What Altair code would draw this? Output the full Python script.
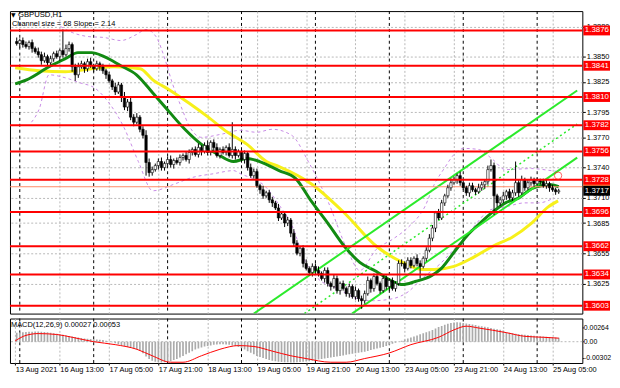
import altair as alt
import pandas as pd

# ---------------- data ----------------
first_open = 1.3870
close = [
    1.3868, 1.3865, 1.3863, 1.3866,
    1.3862, 1.3860, 1.3864, 1.3858, 1.3855,
    1.3852, 1.3846, 1.3850, 1.3844,
    1.3848, 1.3853, 1.3850, 1.3856, 1.3852,
    1.3858, 1.3862, 1.3840, 1.3832,
    1.3840, 1.3843, 1.3838, 1.3845, 1.3841, 1.3838, 1.3843, 1.3840, 1.3836,
    1.3832, 1.3826, 1.3820, 1.3815,
    1.3822, 1.3810, 1.3800, 1.3805, 1.3790,
    1.3785, 1.3790, 1.3778, 1.3772,
    1.3745, 1.3735, 1.3738,
    1.3742, 1.3746, 1.3740, 1.3744, 1.3748, 1.3743, 1.3747, 1.3745, 1.3750,
    1.3752, 1.3748, 1.3755, 1.3758, 1.3753, 1.3760, 1.3756,
    1.3762, 1.3755, 1.3765, 1.3760, 1.3752, 1.3758,
    1.3755, 1.3760, 1.3752,
    1.3758,
    1.3752, 1.3756, 1.3748, 1.3754,
    1.3740, 1.3732, 1.3736,
    1.3722, 1.3718, 1.3712, 1.3715,
    1.3708, 1.3705, 1.3700,
    1.3690, 1.3694, 1.3685, 1.3688,
    1.3675, 1.3665, 1.3655, 1.3660,
    1.3645, 1.3640, 1.3636, 1.3642, 1.3638,
    1.3635, 1.3630, 1.3638, 1.3625, 1.3622, 1.3630, 1.3618, 1.3625, 1.3620,
    1.3615, 1.3622, 1.3612, 1.3618, 1.3610,
    1.3608, 1.3615,
    1.3628, 1.3620, 1.3632, 1.3625, 1.3618, 1.3630, 1.3622, 1.3628, 1.3620, 1.3625,
    1.3645,
    1.3645, 1.3640, 1.3648, 1.3643, 1.3650, 1.3645,
    1.3642,
    1.3650, 1.3658,
    1.3670, 1.3680, 1.3695, 1.3690,
    1.3705, 1.3712, 1.3720, 1.3725,
    1.3728, 1.3732, 1.3725,
    1.3720, 1.3715, 1.3722, 1.3718, 1.3716, 1.3720, 1.3723, 1.3726,
    1.3738, 1.3742,
    1.3712, 1.3705,
    1.3708, 1.3712, 1.3716, 1.3710, 1.3715,
    1.3725, 1.3715, 1.3728, 1.3720,
    1.3725, 1.3728, 1.3724, 1.3727, 1.3726, 1.3722, 1.3724,
    1.3720, 1.3718, 1.3716, 1.3717,
]
up_wick = [
    3, 2, 4, 2, 3, 3, 2, 3, 2, 4, 3, 4, 2, 3, 2, 3, 2, 21, 4, 3,
    2, 3, 4, 3, 2, 3, 4, 2, 3, 2, 3, 2, 3, 2, 4, 3, 2, 5, 3, 4,
    3, 4, 2, 3, 5, 4, 3, 2, 3, 4, 2, 3, 4, 2, 3, 3, 2, 4, 3, 2,
    3, 4, 2, 3, 5, 2, 3, 4, 2, 3, 2, 4, 27, 3, 2, 4, 3, 2, 4, 3,
    3, 2, 4, 2, 3, 3, 2, 4, 3, 2, 3, 2, 4, 3, 2, 3, 4, 2, 3, 3,
    4, 2, 3, 3, 2, 4, 3, 2, 3, 2, 3, 2, 4, 2, 3, 3, 4, 2, 3, 3,
    2, 4, 3, 2, 3, 2, 3, 4, 2, 3, 3, 2, 4, 3, 2, 3, 4, 3, 2, 4,
    3, 2, 3, 4, 3, 2, 4, 3, 2, 3, 3, 2, 4, 3, 2, 4, 6, 3, 2, 3,
    4, 2, 3, 3, 21, 3, 4, 2, 3, 3, 2, 3, 2, 3, 4, 2, 3, 2, 2,
]
lo_wick = [
    2, 3, 2, 4, 3, 2, 3, 4, 2, 3, 4, 2, 3, 2, 3, 2, 4, 3, 2, 3,
    5, 6, 3, 2, 4, 3, 2, 3, 2, 4, 3, 4, 2, 3, 3, 2, 5, 3, 4, 3,
    4, 2, 3, 3, 13, 4, 3, 2, 4, 3, 3, 2, 3, 4, 2, 3, 3, 2, 4, 3,
    2, 3, 4, 2, 3, 3, 4, 2, 3, 2, 3, 2, 3, 4, 2, 3, 4, 3, 2, 3,
    2, 4, 3, 2, 3, 4, 2, 3, 2, 4, 3, 4, 3, 2, 3, 4, 2, 3, 4, 2,
    3, 2, 4, 3, 4, 2, 3, 4, 2, 3, 4, 2, 3, 3, 8, 3, 2, 4, 3, 2,
    3, 2, 3, 4, 2, 3, 2, 3, 4, 2, 3, 2, 3, 12, 2, 3, 2, 3, 4, 2,
    2, 3, 2, 3, 2, 4, 3, 2, 3, 4, 2, 3, 2, 3, 4, 3, 2, 19, 4, 3,
    3, 4, 2, 3, 3, 4, 2, 3, 2, 3, 3, 2, 3, 2, 3, 4, 2, 3, 2,
]

# MACD main (histogram), units of 1e-5
macd_hist = [
    150, 160, 170, 175, 180, 185, 190, 190, 195, 195, 190,
    185, 180, 170, 160, 150, 140, 130, 120, 110, 100,
    90, 80, 70, 60, 55, 50, 45, 40, 35, 30,
    20, 5, -10, -30, -50, -70, -80, -100, -120, -130,
    -150, -170, -220, -280, -330, -360, -380, -390, -395, -390,
    -385, -370, -350, -330, -300, -270, -240, -210, -180, -150,
    -130, -110, -90, -80, -70, -60, -55, -50, -50, -55,
    -60, -70, -80, -100, -120, -150, -180, -210, -240, -270,
    -290, -310, -330, -350, -360, -370, -380, -385, -390, -390,
    -395, -395, -390, -385, -380, -375, -370, -360, -350, -340,
    -330, -320, -310, -300, -290, -280, -270, -260, -250, -240,
    -230, -220, -210, -200, -190, -175, -160, -145, -130, -115,
    -100, -80, -60, -40, -20, 0, 20, 40, 60, 80,
    100, 120, 140, 160, 180, 200, 220, 250, 280, 300,
    320, 340, 355, 365, 370, 365, 355, 345, 335, 325,
    315, 305, 295, 285, 275, 260, 245, 235, 225, 215,
    180, 170, 160, 150, 140, 135, 130, 125, 120, 115,
    110, 105, 100, 95, 90, 85, 80, 75,
]
# MACD signal line, units of 1e-5 (first point read at the left edge)
sig_i = [1.5, 5, 9, 15, 20, 27, 34, 41, 46, 52, 56, 62, 68, 74, 79, 85, 91, 96,
         104, 109, 115, 123, 130, 139, 144, 148, 152, 161, 167, 173, 178]
sig_v = [15, 120, 154, 137, 84, 0, -56, -144, -267, -390, -390, -267, -144, -74,
         -91, -179, -267, -320, -390, -390, -320, -214, -56, 84, 225, 295, 260,
         172, 102, 84, 67]

# moving averages (first point read at the left edge)
green_i = [1.5, 5.2, 12.5, 17.8, 21.9, 26.3, 30.4, 35.8, 40.9, 46.2, 51.6, 56.6, 62,
           67.4, 72.4, 76.8, 80.9, 87.2, 92.6, 97.6, 103, 108.4, 113.4, 118.8, 124.1,
           127.3, 131.4, 136.8, 139.9, 144, 148.1, 152.5, 156.6, 160.7, 165.1, 169.2,
           172.4, 175.5, 178]
green_p = [1.3823, 1.3827, 1.3840, 1.3848, 1.3854, 1.3854, 1.3850, 1.3841, 1.3832,
           1.3814, 1.3795, 1.3778, 1.3763, 1.3753, 1.3746, 1.3749, 1.3746, 1.3737,
           1.3729, 1.3707, 1.3685, 1.3662, 1.3646, 1.3637, 1.3627, 1.3624, 1.3627,
           1.3633, 1.3640, 1.3656, 1.3672, 1.3685, 1.3696, 1.3705, 1.3710, 1.3719,
           1.3722, 1.3723, 1.3721]
yellow_i = [1.5, 9.3, 17.8, 26.3, 33.6, 42.1, 46.2, 51.6, 57.9, 64.2, 70.5, 76.8, 83.1,
            87.2, 97.6, 108.4, 118.8, 127.3, 133.6, 137.7, 144, 150.3, 156.6, 162.9,
            169.2, 174.6, 177.8]
yellow_p = [1.3839, 1.3836, 1.3835, 1.3838, 1.3840, 1.3838, 1.3827, 1.3817, 1.3804,
            1.3790, 1.3775, 1.3763, 1.3746, 1.3741, 1.3724, 1.3695, 1.3662, 1.3646,
            1.3639, 1.3639, 1.3642, 1.3651, 1.3662, 1.3671, 1.3685, 1.3701, 1.3707]

# envelope bands (dashed violet)
bbu_i = [16.2, 20, 25.1, 30.4, 35.8, 40.9, 44, 47.2, 50.3, 52.5, 55.7, 57.9, 62, 68.3,
         74.6, 79.9, 85, 91.3, 96.7, 103, 109.3, 113.4, 118.8, 124.1, 129.2, 134.5,
         137.7, 140.8, 144, 147.2, 151.9, 156.6, 160.7, 169.2, 175.5, 178]
bbu_p = [1.3880, 1.3874, 1.3870, 1.3869, 1.3866, 1.3872, 1.3877, 1.3870, 1.3846,
         1.3824, 1.3798, 1.3782, 1.3770, 1.3773, 1.3777, 1.3775, 1.3778, 1.3772,
         1.3746, 1.3707, 1.3659, 1.3638, 1.3659, 1.3669, 1.3681, 1.3701, 1.3724,
         1.3739, 1.3753, 1.3759, 1.3758, 1.3748, 1.3738, 1.3739, 1.3737, 1.3736]
bbl_i = [6.8, 9.3, 12.5, 17.8, 22.6, 27.3, 32, 36.8, 41.5, 46.2, 53.5, 58.8, 66.1, 72.4,
         74.6, 83.1, 87.2, 91.3, 95.7, 99.8, 106.2, 112.5, 117.8, 124.1, 129.2, 133.6,
         139.3, 144, 150.3, 155.7, 160.7, 167, 171.5, 176.5]
bbl_p = [1.3785, 1.3798, 1.3832, 1.3829, 1.3824, 1.3819, 1.3804, 1.3780, 1.3746,
         1.3717, 1.3724, 1.3730, 1.3734, 1.3737, 1.3734, 1.3720, 1.3703, 1.3683,
         1.3647, 1.3630, 1.3620, 1.3610, 1.3608, 1.3610, 1.3617, 1.3630, 1.3644,
         1.3659, 1.3681, 1.3698, 1.3701, 1.3705, 1.3705, 1.3710]

# equidistant channel (two solid rails + dotted middle)
chan_upper_i = [79.0, 184.0]
chan_upper_p = [1.35952, 1.38165]
chan_lower_i = [110.9, 184.0]
chan_lower_p = [1.35952, 1.37499]
chan_mid_i = [95.4, 184.0]
chan_mid_p = [1.35952, 1.37832]
alert_i = [177.8]
alert_p = [1.3732]

levels = [1.3876, 1.3841, 1.3810, 1.3782, 1.3756, 1.3728, 1.3696, 1.3662, 1.3634, 1.3603]
price_ticks = [1.3595, 1.3625, 1.3655, 1.3685, 1.3710, 1.3740, 1.3770, 1.3795,
               1.3825, 1.3850, 1.3880]
last_price = 1.3717
ask_price = 1.3721
time_ticks = [1.5, 16, 32, 48, 64, 80, 96, 112, 128, 144, 160, 176]
time_labels = ["13 Aug 2021", "16 Aug 13:00", "17 Aug 05:00", "17 Aug 21:00",
               "18 Aug 13:00", "19 Aug 05:00", "19 Aug 21:00", "20 Aug 13:00",
               "23 Aug 05:00", "23 Aug 21:00", "24 Aug 13:00", "25 Aug 05:00"]
day_seps = [3, 27, 51, 75, 99, 123, 147, 171]
macd_ticks = [0.00264, 0.0, -0.00302]

# ---------------- tables ----------------
n = len(close)
opens = [first_open] + close[:-1]
candles = pd.DataFrame({
    "i": list(range(n)),
    "o": opens,
    "c": close,
    "hi": [max(o, c) + u * 0.0001 for o, c, u in zip(opens, close, up_wick)],
    "lo": [min(o, c) - d * 0.0001 for o, c, d in zip(opens, close, lo_wick)],
})
hist_df = pd.DataFrame({"i": list(range(len(macd_hist))), "h": [v * 1e-5 for v in macd_hist]})
sig_df = pd.DataFrame({"i": sig_i, "v": [v * 1e-5 for v in sig_v]})
green_df = pd.DataFrame({"i": green_i, "p": green_p})
yellow_df = pd.DataFrame({"i": yellow_i, "p": yellow_p})
bands_df = pd.concat([
    pd.DataFrame({"i": bbu_i, "p": bbu_p, "b": "up"}),
    pd.DataFrame({"i": bbl_i, "p": bbl_p, "b": "lo"}),
])
rails_df = pd.concat([
    pd.DataFrame({"i": chan_upper_i, "p": chan_upper_p, "r": "up"}),
    pd.DataFrame({"i": chan_lower_i, "p": chan_lower_p, "r": "lo"}),
])
mid_df = pd.DataFrame({"i": chan_mid_i, "p": chan_mid_p})
alert_df = pd.DataFrame({"i": alert_i, "p": alert_p})
levels_df = pd.DataFrame({"p": levels, "lab": [f"{v:.4f}" for v in levels]})
last_df = pd.DataFrame({"p": [last_price], "lab": [f"{last_price:.4f}"]})
ask_df = pd.DataFrame({"p": [ask_price]})
seps_df = pd.DataFrame({"i": day_seps})
one = pd.DataFrame({"k": [0]})

# ---------------- layout / style ----------------
W = 579
H_MAIN = 306
H_MACD = 45
X_MIN, X_MAX = 1.42, 184.07
P_MIN, P_MAX = 1.35952, 1.38952
M_MIN, M_MAX = -0.00405, 0.00440
FONT = "Liberation Sans"
GRID = "#b8b8b8"
AX = 7.5
BOX_R = W + 28
BOX_HALF = 0.00049        # half height of a price tag box, in price units (~5 px)
IN_VIEW = "datum.i >= 2"

xs = alt.Scale(domain=[X_MIN, X_MAX], nice=False, zero=False)
ys = alt.Scale(domain=[P_MIN, P_MAX], nice=False, zero=False)
ms = alt.Scale(domain=[M_MIN, M_MAX], nice=False, zero=False)

x_axis_main = alt.Axis(values=time_ticks[1:], labels=False, ticks=False, domain=False,
                       grid=True, gridColor=GRID, gridDash=[2, 2], title=None)
y_axis_main = alt.Axis(orient="right", values=price_ticks, format=".4f", grid=True,
                       gridColor=GRID, gridDash=[2, 2], domain=False, ticks=True,
                       tickSize=3, tickColor="black", labelFont=FONT, labelFontSize=AX,
                       labelColor="black", labelPadding=1, title=None)
label_expr = "[" + ",".join(f"'{t}'" for t in time_labels) + "][round(datum.value/16)]"
x_axis_macd = alt.Axis(values=time_ticks, labelExpr=label_expr, grid=True, gridColor=GRID,
                       gridDash=[2, 2], domain=False, ticks=True, tickSize=2,
                       tickColor="black", labelAlign="left", labelFont=FONT,
                       labelFontSize=AX, labelColor="black", labelPadding=1,
                       labelOverlap=False, labelFlush=False, title=None)
y_axis_macd = alt.Axis(orient="right", values=macd_ticks,
                       labelExpr="datum.value > 0.001 ? '0.00264' : (datum.value < -0.001 ? '-0.00302' : '0.00')",
                       grid=False, domain=False, ticks=True, tickSize=1, tickColor="black",
                       labelFont=FONT, labelFontSize=7, labelColor="black",
                       labelPadding=0, title=None)


def XM(f):
    return alt.X(f, type="quantitative", scale=xs, axis=x_axis_main)


def YM(f):
    return alt.Y(f, type="quantitative", scale=ys, axis=y_axis_main)


def XD(f):
    return alt.X(f, type="quantitative", scale=xs, axis=x_axis_macd)


def YD(f):
    return alt.Y(f, type="quantitative", scale=ms, axis=y_axis_macd)


def tag_box(df, color):
    return alt.Chart(df).transform_calculate(
        b0=f"datum.p - {BOX_HALF}", b1=f"datum.p + {BOX_HALF}"
    ).mark_rect(color=color).encode(
        y=YM("b0"), y2="b1", x=alt.value(W + 1), x2=alt.value(BOX_R))


# ---------------- main panel ----------------
seps = alt.Chart(seps_df).mark_rule(color="black", strokeDash=[3, 3], strokeWidth=1).encode(x=XM("i"))
bands = alt.Chart(bands_df).mark_line(color="#c78be6", strokeDash=[3, 3], strokeWidth=1,
                                      interpolate="monotone", clip=True).encode(
    x=XM("i"), y=YM("p"), detail="b:N")
lvl = alt.Chart(levels_df).mark_rule(color="#ff0000", strokeWidth=2).encode(y=YM("p"))
ask = alt.Chart(ask_df).mark_rule(color="#ff8a66", strokeWidth=1).encode(y=YM("p"))
rails = alt.Chart(rails_df).mark_line(color="#2bea2b", strokeWidth=2, clip=True).encode(
    x=XM("i"), y=YM("p"), detail="r:N")
mid = alt.Chart(mid_df).mark_line(color="#2bea2b", strokeWidth=1.5, strokeDash=[2, 3],
                                  clip=True).encode(x=XM("i"), y=YM("p"))
yellow = alt.Chart(yellow_df).mark_line(color="#f7f01a", strokeWidth=3, interpolate="monotone",
                                        clip=True).encode(x=XM("i"), y=YM("p"))
green = alt.Chart(green_df).mark_line(color="#128a12", strokeWidth=3, interpolate="monotone",
                                      clip=True).encode(x=XM("i"), y=YM("p"))
wicks = alt.Chart(candles).transform_filter(IN_VIEW).mark_rule(
    color="black", strokeWidth=1, clip=True).encode(x=XM("i"), y=YM("lo"), y2="hi")
bodies = alt.Chart(candles).transform_filter(IN_VIEW).mark_bar(
    width=2.4, stroke="black", strokeWidth=0.6, clip=True).encode(
    x=XM("i"), y=YM("o"), y2="c",
    fill=alt.condition("datum.c >= datum.o", alt.value("white"), alt.value("black")))
alert = alt.Chart(alert_df).mark_point(shape="circle", size=55, filled=False, color="#ff2020",
                                       strokeWidth=1).encode(x=XM("i"), y=YM("p"))
lvl_box = tag_box(levels_df, "#ff0000")
lvl_txt = alt.Chart(levels_df).mark_text(align="left", baseline="middle", color="white",
                                         font=FONT, fontSize=8).encode(
    y=YM("p"), x=alt.value(W + 2.5), text="lab:N")
ask_box = tag_box(ask_df, "#ff7a3c")
last_box = tag_box(last_df, "black")
last_txt = alt.Chart(last_df).mark_text(align="left", baseline="middle", color="white",
                                        font=FONT, fontSize=8).encode(
    y=YM("p"), x=alt.value(W + 2.5), text="lab:N")
tri = alt.Chart(one).mark_text(align="left", baseline="middle", font="DejaVu Sans", fontSize=6,
                               color="black", text="▼").encode(x=alt.value(1), y=alt.value(4))
title1 = alt.Chart(one).mark_text(align="left", baseline="middle", font=FONT, fontSize=7.8,
                                  color="black", text="GBPUSD,H1").encode(
    x=alt.value(8), y=alt.value(4))
title2 = alt.Chart(one).mark_text(align="left", baseline="middle", font=FONT, fontSize=7.5,
                                  color="black", text="Channel size = 68 Slope = 2.14").encode(
    x=alt.value(2), y=alt.value(13))

main = alt.layer(seps, bands, yellow, green, rails, mid, ask, wicks, bodies, lvl, alert,
                 ask_box, last_box, lvl_box, lvl_txt, last_txt, tri, title1, title2).properties(
    width=W, height=H_MAIN)

# ---------------- MACD panel ----------------
mseps = alt.Chart(seps_df).mark_rule(color="black", strokeDash=[3, 3], strokeWidth=1).encode(x=XD("i"))
zero = alt.Chart(one).mark_rule(color=GRID, strokeDash=[2, 2], strokeWidth=1).encode(
    y=alt.Y("z:Q", scale=ms, axis=y_axis_macd)).transform_calculate(z="0")
hist = alt.Chart(hist_df).transform_filter(IN_VIEW).mark_bar(
    width=1.7, color="#ababab", clip=True).encode(x=XD("i"), y=YD("h"))
sig = alt.Chart(sig_df).mark_line(color="#ff0000", strokeWidth=1, interpolate="monotone",
                                  clip=True).encode(x=XD("i"), y=YD("v"))
mtitle = alt.Chart(one).mark_text(align="left", baseline="middle", font=FONT, fontSize=7.5,
                                  color="black", text="MACD(12,26,9) 0.00027 0.00053").encode(
    x=alt.value(1), y=alt.value(7))

macd = alt.layer(mseps, zero, hist, sig, mtitle).properties(width=W, height=H_MACD)

chart = alt.vconcat(main, macd, spacing=3).properties(
    padding=0,
    autosize=alt.AutoSizeParams(type="pad", contains="padding"),
    background="white",
).configure_view(stroke="black", strokeWidth=1, fill="white")

chart.save("out.html", embed_options={"renderer": "svg", "actions": False})
